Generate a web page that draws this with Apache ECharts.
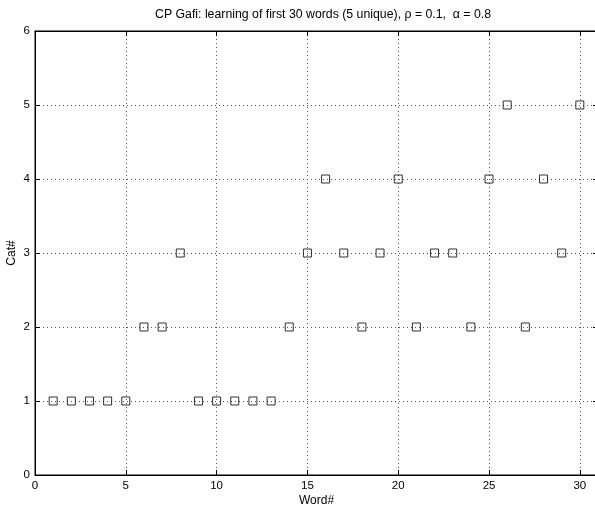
<!DOCTYPE html>
<html><head><meta charset="utf-8">
<script src="https://cdn.jsdelivr.net/npm/echarts@6/dist/echarts.min.js"></script>
<style>html,body{margin:0;padding:0;background:#fff}#c{width:595px;height:507px}</style>
</head><body><div id="c"></div>
<script>
const words = [1,2,3,4,5,6,7,8,9,10,11,12,13,14,15,16,17,18,19,20,21,22,23,24,25,26,27,28,29,30];
const cats  = [1,1,1,1,1,2,2,3,1,1,1,1,1,2,3,4,3,2,3,4,2,3,3,2,4,5,2,4,3,5];
const titleText = 'CP Gafi: learning of first 30 words (5 unique), \u03c1 = 0.1,  \u03b1 = 0.8';
const xTicks = [0,5,10,15,20,25,30];
const font = 'Liberation Sans, Arial, Helvetica, sans-serif';
const chart = echarts.init(document.getElementById('c'), null, {renderer:'canvas'});
const gridLine = {show:true, lineStyle:{color:'#555', type:[1,3], width:1}};
const axisLine = {show:true, onZero:false, lineStyle:{color:'#000', width:1}};
const tick = {show:true, inside:true, length:5, lineStyle:{color:'#000'}};
chart.setOption({
  animation:false,
  backgroundColor:'#fff',
  title:{text:titleText, left:150, top:4, textStyle:{fontFamily:font, fontSize:12.3, fontWeight:'normal', color:'#000'}},
  grid:{left:35, right:-3, top:31, bottom:32, show:true, borderColor:'#000', borderWidth:1, backgroundColor:'transparent', containLabel:false, outerBoundsMode:'none'},
  xAxis:[{
    type:'value', min:0, max:31, interval:5, position:'bottom',
    name:'Word#', nameLocation:'middle', nameGap:20, nameMoveOverlap:false,
    nameTextStyle:{fontFamily:font, fontSize:12, color:'#000'},
    axisLine:axisLine, axisTick:tick,
    axisLabel:{fontFamily:font, fontSize:11.5, color:'#000', margin:5, showMaxLabel:false, formatter:v => xTicks.includes(v) ? String(v) : ''},
    splitLine:gridLine
  },{
    type:'value', min:0, max:31, interval:5, position:'top',
    axisLine:axisLine, axisTick:tick,
    axisLabel:{show:false}, splitLine:{show:false}
  }],
  yAxis:[{
    type:'value', min:0, max:6, interval:1, position:'left',
    name:'Cat#', nameLocation:'middle', nameGap:17, nameMoveOverlap:false,
    nameTextStyle:{fontFamily:font, fontSize:12, color:'#000'},
    axisLine:axisLine, axisTick:tick,
    axisLabel:{fontFamily:font, fontSize:11.5, color:'#000', margin:5},
    splitLine:gridLine
  },{
    type:'value', min:0, max:6, interval:1, position:'right',
    axisLine:axisLine, axisTick:tick,
    axisLabel:{show:false}, splitLine:{show:false}
  }],
  series:[{
    type:'scatter', xAxisIndex:0, yAxisIndex:0,
    data: words.map((w,i)=>[w,cats[i]]),
    symbol:'rect', symbolSize:8,
    itemStyle:{color:'rgba(255,255,255,0)', borderColor:'#000', borderWidth:1}
  }]
});
</script></body></html>
